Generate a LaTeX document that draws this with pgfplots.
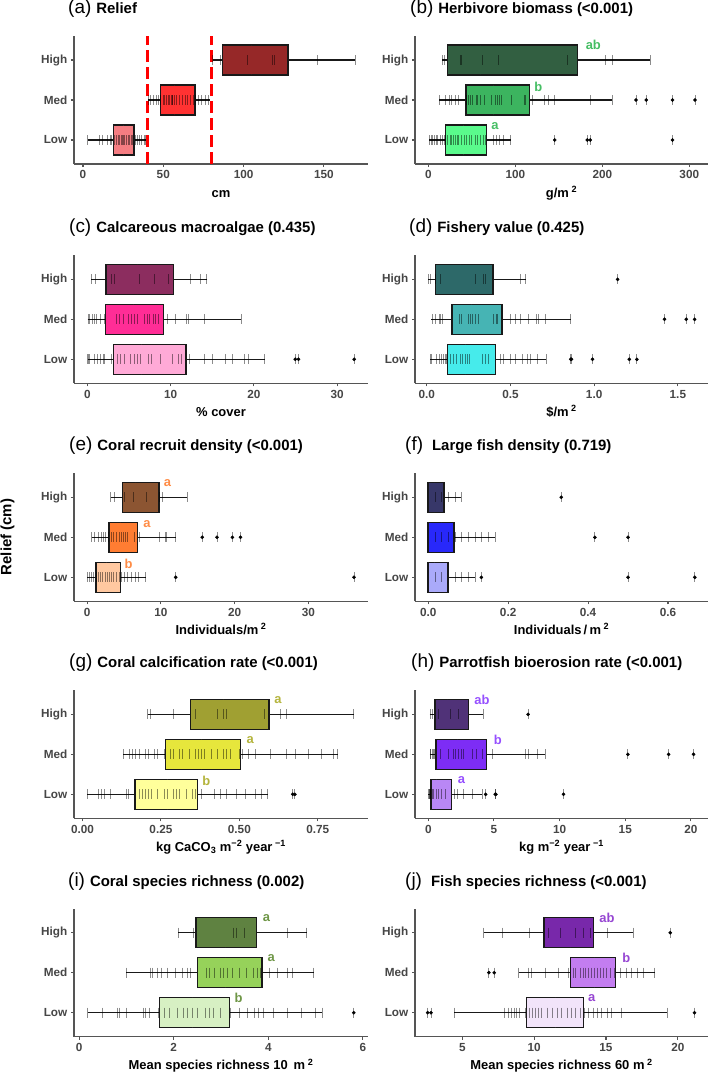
\documentclass[border=0pt]{standalone}
\usepackage{fontspec}
\setmainfont{Liberation Sans}
\usepackage{pgfplots}
\pgfplotsset{compat=1.18}
\usepgfplotslibrary{statistics}
\usetikzlibrary{plotmarks}

\definecolor{axgray}{RGB}{85,85,85}
\definecolor{tickgray}{RGB}{70,70,70}
\definecolor{aH}{RGB}{150,40,40}\definecolor{aM}{RGB}{255,50,50}\definecolor{aL}{RGB}{245,125,130}
\definecolor{bH}{RGB}{50,95,65}\definecolor{bM}{RGB}{60,180,95}\definecolor{bL}{RGB}{90,250,140}\definecolor{bT}{RGB}{70,190,100}
\definecolor{cH}{RGB}{140,45,95}\definecolor{cM}{RGB}{255,45,150}\definecolor{cL}{RGB}{255,170,215}
\definecolor{dH}{RGB}{45,105,105}\definecolor{dM}{RGB}{70,180,180}\definecolor{dL}{RGB}{70,235,235}
\definecolor{eH}{RGB}{140,85,50}\definecolor{eM}{RGB}{255,125,50}\definecolor{eL}{RGB}{255,200,160}\definecolor{eT}{RGB}{255,140,70}
\definecolor{fH}{RGB}{55,55,105}\definecolor{fM}{RGB}{40,40,250}\definecolor{fL}{RGB}{170,170,250}
\definecolor{gH}{RGB}{160,160,50}\definecolor{gM}{RGB}{230,230,60}\definecolor{gL}{RGB}{255,255,155}\definecolor{gT}{RGB}{180,180,60}
\definecolor{hH}{RGB}{80,50,120}\definecolor{hM}{RGB}{125,45,245}\definecolor{hL}{RGB}{185,135,245}\definecolor{hT}{RGB}{150,80,255}
\definecolor{iH}{RGB}{95,130,65}\definecolor{iM}{RGB}{150,210,90}\definecolor{iL}{RGB}{215,240,195}\definecolor{iT}{RGB}{110,150,70}
\definecolor{jH}{RGB}{120,40,170}\definecolor{jM}{RGB}{195,125,240}\definecolor{jL}{RGB}{242,228,250}\definecolor{jT}{RGB}{150,70,210}

\pgfplotsset{
  panel/.style={
    scale only axis, height=128bp,
    ymin=0.4, ymax=3.6, ytick={1,2,3}, yticklabels={Low,Med,High},
    axis x line*=bottom, axis y line*=left,
    axis line style={-, draw=axgray, line width=1.1bp},
    tick align=outside, major tick length=3bp,
    tick style={draw=axgray, line width=1.1bp},
    ticklabel style={font=\bfseries\fontsize{11.8}{12}\selectfont, text=tickgray},
    xticklabel style={inner sep=0pt, anchor=north, yshift=-3.5bp},
    yticklabel style={inner sep=0pt, anchor=east, xshift=-3.5bp},
    every axis x label/.style={at={(axis description cs:0.5,0)}, anchor=base, yshift=-33bp, inner sep=0pt, font=\bfseries\fontsize{13}{14}\selectfont},
    every axis title/.style={at={(axis description cs:0,1)}, anchor=base west, yshift=22.5bp, inner sep=0pt},
    boxplot/every median/.style={draw=none},
    clip=false,
  },
  leftcol/.style={panel, width=294bp},
  rightcol/.style={panel, width=293bp},
}

\newcommand{\ttl}[2]{{\fontsize{19}{20}\selectfont #1}\hspace{5bp}{\bfseries\fontsize{15}{16}\selectfont #2}}
\newcommand{\bx}[7]{%
\addplot[draw=black!80, line width=1.3bp, forget plot] coordinates {(#2,#1) (#6,#1)};
\addplot[draw=black!90, line width=1.4bp, fill=#7, boxplot prepared={draw position=#1, lower whisker=#2, lower quartile=#3, median=#4, upper quartile=#5, upper whisker=#6, box extend=0.75, whisker extend=0}] coordinates {};}
\newcommand{\rug}[2]{\addplot[only marks, mark=|, mark size=5bp, mark options={draw=black, draw opacity=0.45, line width=0.85bp}] table[header=false, row sep=\\, x index=0, y expr=#1] {#2};}
\newcommand{\outl}[2]{\addplot[only marks, mark=*, mark size=1.6bp, mark options={fill=black, draw=none}] table[header=false, row sep=\\, x index=0, y expr=#1] {#2};}
\newcommand{\lett}[4]{\node[font=\bfseries\fontsize{13}{14}\selectfont, text=#1, inner sep=0pt] at (axis cs:#2,#3) {#4};}

\begin{document}
\begin{tikzpicture}
\useasboundingbox (0,0) rectangle (709bp,-1072bp);
\node[rotate=90, font=\bfseries\fontsize{15}{16}\selectfont, anchor=center] at (7.5bp,-537bp) {Relief (cm)};

% (a)
\begin{axis}[leftcol, at={(74bp,-164bp)}, anchor=south west, xmin=-5.6, xmax=177.5,
  xtick={0,50,100,150}, xticklabels={0,50,100,150}, xlabel={cm},
  title={\ttl{(a)}{Relief}}, title style={xshift=-6bp}]
\bx{3}{80}{86.7}{105}{127.7}{169.4}{aH}
\bx{2}{40.4}{48.3}{57}{69.8}{79}{aM}
\bx{1}{2.9}{19}{25}{31.7}{39.2}{aL}
\rug{3}{80.5\\85.6\\102.7\\118\\119.4\\146\\169.4\\}
\rug{2}{40.5\\42\\44\\45.5\\47\\48.5\\50\\51\\52\\53\\54\\55\\55.5\\56\\57\\58\\60\\62\\63.5\\65\\67\\68.5\\70\\72\\74\\76\\78\\}
\rug{1}{3\\10\\12\\15.5\\17\\18\\19.5\\21\\22\\23\\24\\24.5\\25\\26\\27\\28\\29\\30\\31\\32.5\\34\\35\\36.5\\38\\39\\}
\addplot[red, line width=2.7bp, dash pattern=on 12bp off 5bp] coordinates {(40,0.4) (40,3.6)};
\addplot[red, line width=2.7bp, dash pattern=on 12bp off 5bp] coordinates {(80,0.4) (80,3.6)};
\end{axis}

% (b)
\begin{axis}[rightcol, at={(415bp,-164bp)}, anchor=south west, xmin=-15.3, xmax=321.5,
  xtick={0,100,200,300}, xticklabels={0,100,200,300}, xlabel={g/m\textsuperscript{ 2}},
  title={\ttl{(b)}{Herbivore biomass (<0.001)}}, title style={xshift=-5bp}]
\bx{3}{16.1}{22.2}{60}{171.6}{254.8}{bH}
\bx{2}{12.6}{43.3}{75}{116.5}{211.5}{bM}
\bx{1}{0.8}{19.9}{40}{66.7}{94.6}{bL}
\rug{3}{16\\18.4\\36.4\\38.3\\62.5\\80.5\\160\\203.8\\211.9\\254.8\\}
\rug{2}{13\\20\\24\\27\\31\\35\\44\\46\\48\\51\\55\\57\\60\\65\\72\\77\\80\\82\\84\\95\\110\\112\\120\\133\\138\\145\\186\\211.5\\238.7\\250.6\\280.8\\306.5\\}
\rug{1}{1\\3\\5\\7\\9\\11\\14\\16\\18\\20\\22\\25\\27\\29\\31\\33\\35\\38\\41\\44\\47\\50\\54\\57\\60\\63\\66\\75\\78\\82\\86\\94.6\\145.2\\182.8\\186.2\\280.8\\}
\outl{2}{238.7\\250.6\\280.8\\306.5\\}
\outl{1}{145.2\\182.8\\186.2\\280.8\\}
\lett{bT}{189.7}{3.37}{ab}
\lett{bT}{126.4}{2.34}{b}
\lett{bT}{76.6}{1.36}{a}
\end{axis}

% (c)
\begin{axis}[leftcol, at={(74bp,-383.3bp)}, anchor=south west, xmin=-1.6, xmax=33.7,
  xtick={0,10,20,30}, xticklabels={0,10,20,30}, xlabel={\% cover},
  title={\ttl{(c)}{Calcareous macroalgae (0.435)}}, title style={xshift=-5bp}]
\bx{3}{0.5}{2.24}{6}{10.36}{14.4}{cH}
\bx{2}{0.04}{2.16}{5.5}{9.16}{18.5}{cM}
\bx{1}{0.04}{3.12}{6.5}{11.84}{21.3}{cL}
\rug{3}{0.5\\1.0\\2.9\\3.3\\6.3\\8.0\\9.7\\12.4\\13.6\\14.3\\}
\rug{2}{0.1\\0.3\\0.6\\0.9\\1.1\\1.6\\2.0\\3.5\\3.9\\4.3\\4.9\\5.3\\5.7\\6.0\\6.9\\7.2\\7.5\\7.9\\8.2\\8.5\\9.6\\10.6\\11.9\\12.1\\14.1\\18.5\\}
\rug{1}{0\\0.1\\0.3\\0.8\\1.2\\1.6\\1.9\\2.1\\2.9\\3.6\\4.0\\4.4\\5.2\\5.6\\6.0\\6.4\\7.3\\7.7\\8.8\\10.2\\10.9\\11.3\\12.3\\14.0\\15.0\\16.6\\17.4\\18.9\\19.4\\21.3\\24.96\\25.36\\32.04\\}
\outl{1}{24.96\\25.36\\32.04\\}
\end{axis}

% (d)
\begin{axis}[rightcol, at={(415bp,-383.3bp)}, anchor=south west, xmin=-0.07, xmax=1.68,
  xtick={0,0.5,1,1.5}, xticklabels={0.0,0.5,1.0,1.5}, xlabel={\$/m\textsuperscript{ 2}},
  title={\ttl{(d)}{Fishery value (0.425)}}, title style={xshift=-6bp}]
\bx{3}{0.01}{0.053}{0.2}{0.396}{0.59}{dH}
\bx{2}{0.028}{0.152}{0.27}{0.45}{0.86}{dM}
\bx{1}{0.02}{0.123}{0.23}{0.41}{0.713}{dL}
\rug{3}{0.01\\0.02\\0.05\\0.08\\0.29\\0.34\\0.35\\0.56\\0.59\\1.14\\}
\rug{2}{0.034\\0.053\\0.073\\0.083\\0.093\\0.198\\0.206\\0.25\\0.26\\0.275\\0.29\\0.31\\0.4\\0.416\\0.424\\0.5\\0.53\\0.56\\0.61\\0.653\\0.667\\0.707\\0.86\\1.42\\1.55\\1.60\\}
\rug{1}{0.02\\0.03\\0.06\\0.075\\0.09\\0.1\\0.11\\0.115\\0.14\\0.16\\0.18\\0.2\\0.215\\0.23\\0.245\\0.255\\0.33\\0.35\\0.37\\0.44\\0.46\\0.5\\0.53\\0.57\\0.6\\0.62\\0.66\\0.713\\0.86\\0.865\\0.99\\1.21\\1.255\\}
\outl{3}{1.14\\}
\outl{2}{1.42\\1.55\\1.60\\}
\outl{1}{0.86\\0.865\\0.99\\1.21\\1.255\\}
\end{axis}

% (e)
\begin{axis}[leftcol, at={(74bp,-601.3bp)}, anchor=south west, xmin=-1.8, xmax=38.1,
  xtick={0,10,20,30}, xticklabels={0,10,20,30}, xlabel={Individuals/m\textsuperscript{ 2}},
  title={\ttl{(e)}{Coral recruit density (<0.001)}}, title style={xshift=-5bp}]
\bx{3}{3.2}{4.75}{6.5}{9.73}{13.6}{eH}
\bx{2}{0.6}{2.94}{4.5}{6.83}{12.0}{eM}
\bx{1}{0}{1.18}{2.6}{4.48}{7.96}{eL}
\rug{3}{3.2\\3.7\\5.1\\6.2\\8.0\\9.8\\10.2\\13.6\\}
\rug{2}{0.6\\1.0\\1.5\\1.9\\2.2\\2.5\\2.9\\3.3\\3.6\\4.0\\4.3\\4.6\\4.9\\5.2\\5.4\\6.4\\7.1\\9.8\\10.6\\10.8\\12.0\\15.6\\17.6\\19.7\\20.8\\}
\rug{1}{0\\0.3\\0.6\\0.9\\1.2\\1.5\\1.8\\2.1\\2.4\\2.7\\3.0\\3.3\\3.6\\4.0\\4.3\\4.7\\5.1\\5.5\\6.0\\6.5\\7.0\\7.96\\12.0\\36.2\\}
\outl{2}{15.6\\17.6\\19.7\\20.8\\}
\outl{1}{12.0\\36.2\\}
\lett{eT}{10.9}{3.36}{a}
\lett{eT}{8.1}{2.33}{a}
\lett{eT}{5.6}{1.34}{b}
\end{axis}

% (f)
\begin{axis}[rightcol, at={(415bp,-601.3bp)}, anchor=south west, xmin=-0.033, xmax=0.70,
  xtick={0,0.2,0.4,0.6}, xticklabels={0.0,0.2,0.4,0.6}, xlabel={Individuals\,/\,m\textsuperscript{ 2}},
  title={\ttl{(f)\hspace{4bp}}{Large fish density (0.719)}}, title style={xshift=-10bp}]
\bx{3}{0}{0}{0.017}{0.04}{0.083}{fH}
\bx{2}{0}{0}{0.033}{0.065}{0.167}{fM}
\bx{1}{0}{0}{0.017}{0.05}{0.117}{fL}
\rug{3}{0.017\\0.033\\0.05\\0.067\\0.083\\0.333\\}
\rug{2}{0.017\\0.033\\0.05\\0.067\\0.083\\0.1\\0.117\\0.133\\0.15\\0.167\\0.417\\0.5\\}
\rug{1}{0.017\\0.033\\0.067\\0.083\\0.1\\0.117\\0.133\\0.5\\0.667\\}
\outl{3}{0.333\\}
\outl{2}{0.417\\0.5\\}
\outl{1}{0.133\\0.5\\0.667\\}
\end{axis}

% (g)
\begin{axis}[leftcol, at={(74bp,-818.3bp)}, anchor=south west, xmin=-0.027, xmax=0.91,
  xtick={0,0.25,0.5,0.75}, xticklabels={0.00,0.25,0.50,0.75},
  xlabel={kg CaCO\textsubscript{3} m\textsuperscript{−2} year\textsuperscript{ −1}},
  title={\ttl{(g)}{Coral calcification rate (<0.001)}}, title style={xshift=-5bp}]
\bx{3}{0.208}{0.344}{0.45}{0.594}{0.864}{gH}
\bx{2}{0.13}{0.265}{0.38}{0.504}{0.814}{gM}
\bx{1}{0.016}{0.167}{0.27}{0.366}{0.59}{gL}
\rug{3}{0.208\\0.215\\0.29\\0.36\\0.43\\0.45\\0.46\\0.58\\0.63\\0.65\\0.864\\}
\rug{2}{0.13\\0.15\\0.16\\0.17\\0.18\\0.2\\0.21\\0.23\\0.24\\0.26\\0.28\\0.29\\0.31\\0.32\\0.34\\0.36\\0.37\\0.38\\0.39\\0.41\\0.43\\0.45\\0.46\\0.47\\0.5\\0.51\\0.53\\0.55\\0.6\\0.65\\0.68\\0.72\\0.76\\0.8\\0.814\\}
\rug{1}{0.016\\0.05\\0.06\\0.07\\0.09\\0.14\\0.145\\0.18\\0.19\\0.2\\0.21\\0.22\\0.24\\0.26\\0.27\\0.29\\0.3\\0.31\\0.33\\0.35\\0.36\\0.38\\0.42\\0.44\\0.46\\0.49\\0.52\\0.55\\0.57\\0.59\\0.67\\0.677\\}
\outl{1}{0.67\\0.677\\}
\lett{gT}{0.623}{3.36}{a}
\lett{gT}{0.535}{2.36}{a}
\lett{gT}{0.395}{1.34}{b}
\end{axis}

% (h)
\begin{axis}[rightcol, at={(415bp,-818.3bp)}, anchor=south west, xmin=-1.01, xmax=21.3,
  xtick={0,5,10,15,20}, xticklabels={0,5,10,15,20},
  xlabel={kg m\textsuperscript{−2} year\textsuperscript{ −1}},
  title={\ttl{(h)}{Parrotfish bioerosion rate (<0.001)}}, title style={xshift=-4bp}]
\bx{3}{0.13}{0.5}{1.5}{3.08}{4.2}{hH}
\bx{2}{0.13}{0.58}{2.2}{4.44}{8.9}{hM}
\bx{1}{0}{0.2}{0.6}{1.77}{4.1}{hL}
\rug{3}{0.13\\0.3\\0.8\\1.7\\2.3\\4.2\\7.6\\}
\rug{2}{0.13\\0.2\\0.3\\0.4\\0.5\\0.9\\1.5\\1.9\\2.1\\2.3\\2.5\\2.7\\3.4\\3.7\\4.1\\4.9\\7.4\\7.6\\8.3\\8.9\\15.2\\18.3\\20.2\\}
\rug{1}{0\\0.05\\0.1\\0.15\\0.2\\0.3\\0.4\\0.6\\0.8\\1.0\\1.3\\2.0\\2.2\\2.7\\3.4\\4.1\\4.37\\5.1\\5.15\\10.3\\}
\outl{3}{7.6\\}
\outl{2}{15.2\\18.3\\20.2\\}
\outl{1}{4.37\\5.1\\5.15\\10.3\\}
\lett{hT}{4.09}{3.37}{ab}
\lett{hT}{5.3}{2.35}{b}
\lett{hT}{2.53}{1.35}{a}
\end{axis}

% (i)
\begin{axis}[leftcol, at={(74bp,-1036.7bp)}, anchor=south west, xmin=-0.11, xmax=6.11,
  xtick={0,2,4,6}, xticklabels={0,2,4,6},
  xlabel={Mean species richness 10\hspace{6bp}m\textsuperscript{ 2}},
  title={\ttl{(i)}{Coral species richness (0.002)}}, title style={xshift=-6bp}]
\bx{3}{2.1}{2.47}{3.1}{3.75}{4.81}{iH}
\bx{2}{1.0}{2.5}{3.1}{3.87}{4.96}{iM}
\bx{1}{0.18}{1.70}{2.4}{3.18}{5.14}{iL}
\rug{3}{2.1\\2.42\\3.27\\3.33\\3.49\\4.4\\4.81\\}
\rug{2}{1.0\\1.5\\1.55\\1.65\\1.75\\1.87\\2.03\\2.18\\2.3\\2.36\\2.7\\2.75\\2.87\\2.98\\3.06\\3.14\\3.24\\3.38\\3.53\\3.68\\3.76\\3.84\\4.03\\4.2\\4.4\\4.52\\4.96\\}
\rug{1}{0.18\\0.5\\0.8\\0.86\\1.0\\1.35\\1.4\\1.48\\1.67\\1.8\\1.9\\2.07\\2.2\\2.3\\2.4\\2.5\\2.66\\2.75\\2.84\\2.98\\3.2\\3.4\\3.55\\3.7\\3.8\\3.9\\4.1\\4.4\\4.7\\5.0\\5.14\\5.81\\}
\outl{1}{5.81\\}
\lett{iT}{3.96}{3.37}{a}
\lett{iT}{4.06}{2.37}{a}
\lett{iT}{3.37}{1.37}{b}
\end{axis}

% (j)
\begin{axis}[rightcol, at={(415bp,-1036.7bp)}, anchor=south west, xmin=1.71, xmax=22.1,
  xtick={5,10,15,20}, xticklabels={5,10,15,20},
  xlabel={Mean species richness 60 m\textsuperscript{ 2}},
  title={\ttl{(j)\hspace{4bp}}{Fish species richness (<0.001)}}, title style={xshift=-10bp}]
\bx{3}{6.5}{10.69}{12.5}{14.14}{16.9}{jH}
\bx{2}{8.94}{12.52}{14.2}{15.67}{18.38}{jM}
\bx{1}{4.44}{9.47}{11.5}{13.43}{19.26}{jL}
\rug{3}{6.5\\7.8\\9.7\\11.0\\11.8\\12.9\\13.4\\13.9\\15.1\\16.9\\19.47\\}
\rug{2}{6.85\\7.22\\8.94\\9.6\\9.8\\10.8\\11.7\\12.4\\12.7\\12.9\\13.2\\13.4\\13.6\\13.8\\14.0\\14.2\\14.4\\14.6\\14.8\\15.0\\15.3\\15.6\\16.0\\16.4\\16.8\\17.2\\17.6\\18.38\\}
\rug{1}{2.59\\2.82\\4.44\\7.9\\8.2\\8.4\\8.6\\8.8\\9.0\\9.4\\9.7\\9.9\\10.1\\10.3\\10.5\\10.9\\11.3\\11.6\\11.9\\12.3\\12.6\\12.9\\13.2\\13.5\\13.8\\14.1\\14.4\\14.7\\15.1\\15.4\\16.1\\19.26\\21.16\\}
\outl{3}{19.47\\}
\outl{2}{6.85\\7.22\\}
\outl{1}{2.59\\2.82\\21.16\\}
\lett{jT}{15.07}{3.37}{ab}
\lett{jT}{16.41}{2.37}{b}
\lett{jT}{14.0}{1.37}{a}
\end{axis}
\end{tikzpicture}
\end{document}
